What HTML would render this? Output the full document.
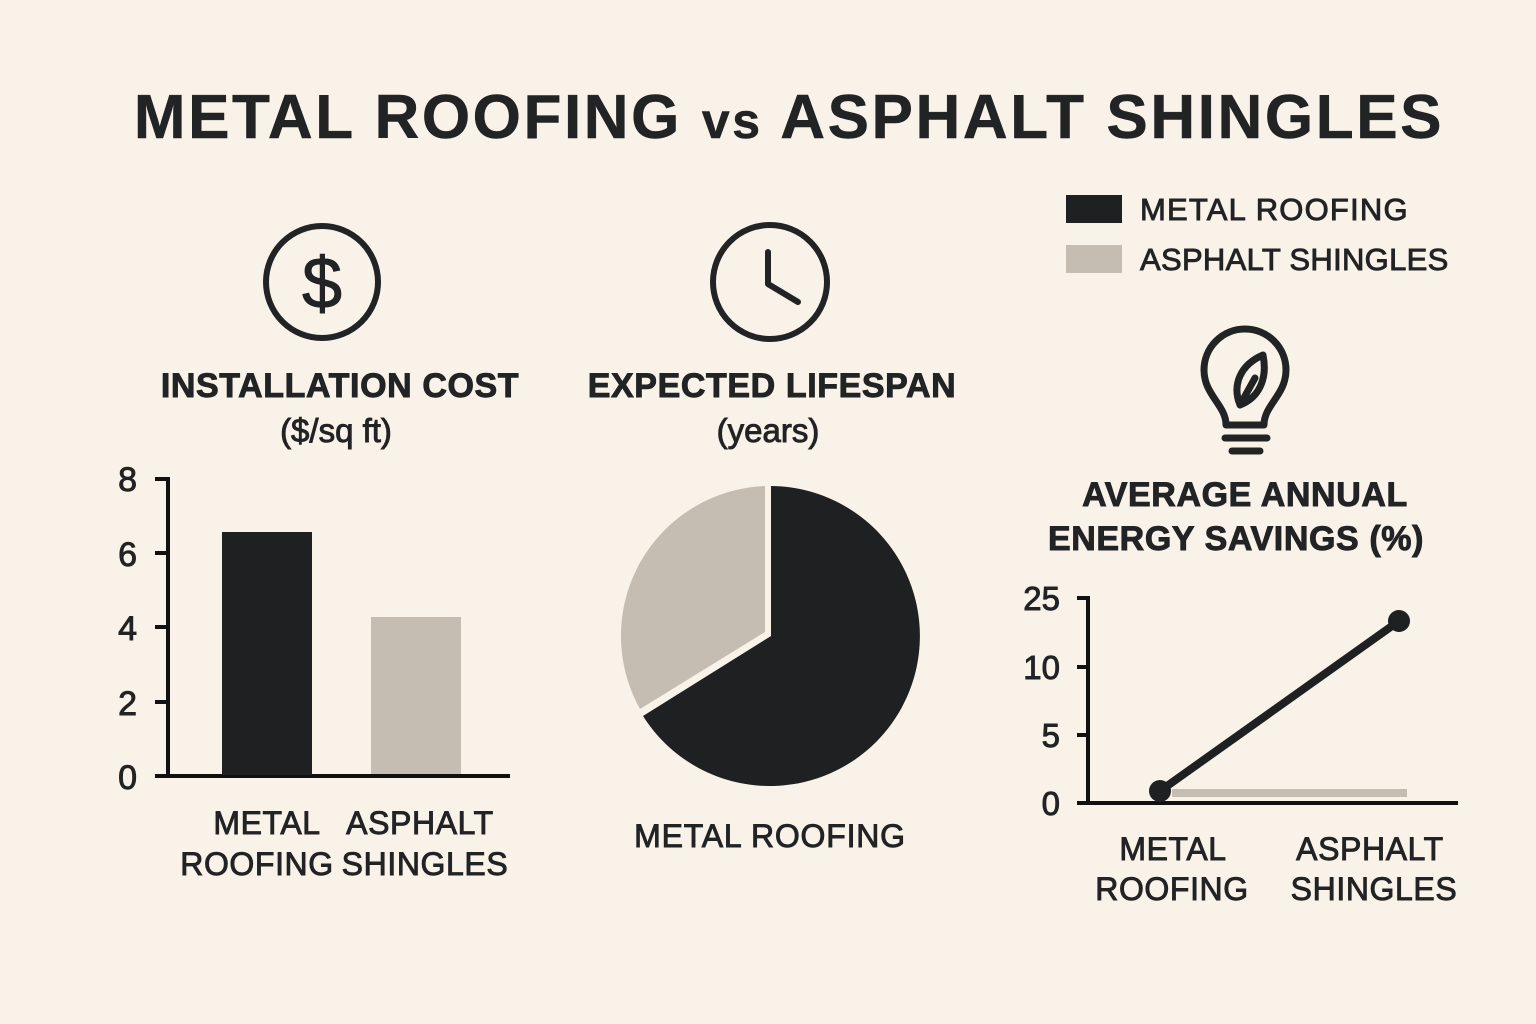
<!DOCTYPE html>
<html><head><meta charset="utf-8"><style>
html,body{margin:0;padding:0;background:#f9f2e9;}
svg{display:block;}
text{font-family:"Liberation Sans",sans-serif;fill:#222325;stroke:#222325;stroke-width:0.9;}
</style></head><body>
<svg width="1536" height="1024" viewBox="0 0 1536 1024">
<rect width="1536" height="1024" fill="#f9f2e9"/>
<text x="789" y="138" font-size="62" font-weight="bold" text-anchor="middle" letter-spacing="2.6" style="stroke-width:0.5">METAL ROOFING <tspan font-size="50">vs</tspan> ASPHALT SHINGLES</text>
<!-- legend -->
<rect x="1066" y="195" width="56" height="28" fill="#1f2022"/>
<rect x="1066" y="245" width="56" height="28" fill="#c6bdb2"/>
<text x="1140" y="220" font-size="31" letter-spacing="1.2">METAL ROOFING</text>
<text x="1140" y="270" font-size="31" letter-spacing="0.3">ASPHALT SHINGLES</text>
<!-- dollar icon -->
<circle cx="322" cy="282" r="56" fill="none" stroke="#222325" stroke-width="6"/>
<text x="322" y="308" font-size="72" text-anchor="middle">$</text>
<!-- clock icon -->
<circle cx="770" cy="282" r="57" fill="none" stroke="#222325" stroke-width="6"/>
<path d="M768 252 V284 L798 302" fill="none" stroke="#222325" stroke-width="6" stroke-linecap="round" stroke-linejoin="round"/>
<!-- bulb icon -->
<g fill="none" stroke="#222325" stroke-width="7" stroke-linecap="round" stroke-linejoin="round">
<path d="M1226 425 C1226 405 1204 395 1204 370 A41 41 0 1 1 1286 370 C1286 395 1264 405 1264 425 Z"/>
<path d="M1225 438 H1267 M1232 451 H1260"/>
<path d="M1240 405 C1232 385 1240 365 1263 355 C1268 380 1258 398 1240 405 M1240 405 L1255 378"/>
</g>
<!-- section titles -->
<g font-size="34" font-weight="bold" text-anchor="middle" style="stroke-width:0">
<text x="340" y="397" letter-spacing="0.6">INSTALLATION COST</text>
<text x="772" y="397" letter-spacing="0.6">EXPECTED LIFESPAN</text>
<text x="1245" y="506" letter-spacing="0.6">AVERAGE ANNUAL</text>
<text x="1236" y="550" letter-spacing="0.6">ENERGY SAVINGS (%)</text>
</g>
<text x="336" y="442" font-size="33" text-anchor="middle">($/sq ft)</text>
<text x="768" y="442" font-size="33" text-anchor="middle">(years)</text>
<!-- bar chart -->
<g stroke="#111" stroke-width="4" fill="none">
<path d="M155 479 H168 V776"/>
<path d="M155 553 H168 M155 627 H168 M155 702 H168"/>
<path d="M155 776 H510"/>
</g>
<g font-size="34" text-anchor="end">
<text x="137" y="491">8</text><text x="137" y="566">6</text><text x="137" y="640">4</text><text x="137" y="715">2</text><text x="137" y="789">0</text>
</g>
<rect x="222" y="532" width="90" height="243" fill="#1f2022"/>
<rect x="371" y="617" width="90" height="157" fill="#c6bdb2"/>
<g font-size="32" text-anchor="middle" letter-spacing="0.6">
<text x="267" y="834">METAL</text><text x="257" y="875">ROOFING</text>
<text x="420" y="834">ASPHALT</text><text x="425" y="875">SHINGLES</text>
</g>
<!-- pie -->
<path d="M771 636 L771 486 A150 150 0 1 1 643 716 Z" fill="#1f2022"/>
<path d="M765 632 L640 709 A150 150 0 0 1 765 486 Z" fill="#c6bdb2"/>
<text x="770" y="847" font-size="32" text-anchor="middle" letter-spacing="0.8">METAL ROOFING</text>
<!-- line chart -->
<g stroke="#111" stroke-width="4" fill="none">
<path d="M1077 598 H1088 V803"/>
<path d="M1077 667 H1088 M1077 735 H1088"/>
<path d="M1077 803 H1458"/>
</g>
<g font-size="33" text-anchor="end">
<text x="1060" y="610">25</text><text x="1060" y="679">10</text><text x="1060" y="747">5</text><text x="1060" y="815">0</text>
</g>
<rect x="1172" y="789" width="235" height="8" fill="#c6bdb2"/>
<line x1="1160" y1="791" x2="1399" y2="621" stroke="#1f2022" stroke-width="8"/>
<circle cx="1160" cy="791" r="11" fill="#1f2022"/>
<circle cx="1399" cy="621" r="11" fill="#1f2022"/>
<g font-size="32" text-anchor="middle" letter-spacing="0.6">
<text x="1173" y="860">METAL</text><text x="1172" y="900">ROOFING</text>
<text x="1370" y="860">ASPHALT</text><text x="1374" y="900">SHINGLES</text>
</g>
</svg>
</body></html>
